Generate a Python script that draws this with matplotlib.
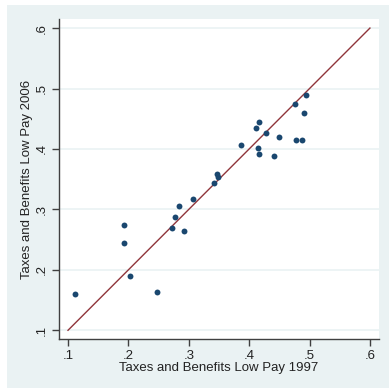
import matplotlib
matplotlib.use("Agg")
import matplotlib.pyplot as plt
from matplotlib.patches import Rectangle

plt.rcParams['font.family'] = ['Liberation Sans', 'DejaVu Sans']

# Data
low_pay_1997 = [0.111, 0.193, 0.193, 0.202, 0.248, 0.272, 0.278, 0.283, 0.292,
                0.307, 0.342, 0.347, 0.349, 0.387, 0.411, 0.416, 0.415, 0.417,
                0.428, 0.441, 0.450, 0.476, 0.477, 0.488, 0.491, 0.494]
low_pay_2006 = [0.160, 0.275, 0.244, 0.190, 0.163, 0.269, 0.287, 0.305, 0.264,
                0.317, 0.343, 0.359, 0.354, 0.406, 0.435, 0.445, 0.402, 0.392,
                0.426, 0.389, 0.420, 0.474, 0.415, 0.415, 0.460, 0.490]
ref_line = [0.1, 0.6]
ticks = [0.1, 0.2, 0.3, 0.4, 0.5, 0.6]
tick_labels = ['.1', '.2', '.3', '.4', '.5', '.6']

W, H = 389, 388
fig = plt.figure(figsize=(W / 100, H / 100), dpi=100)
fig.patch.set_facecolor('white')
bg = Rectangle((7 / W, 0), 1 - 7 / W, 1 - 5 / H, transform=fig.transFigure,
               facecolor='#EAF2F3', edgecolor='none', zorder=-10)
fig.patches.append(bg)

ax = fig.add_axes([59 / W, 1 - 339 / H, (379 - 59) / W, (339 - 19) / H])
ax.set_facecolor('white')
ax.set_xlim(0.0851, 0.615)
ax.set_ylim(0.0856, 0.615)

for t in ticks:
    ax.axhline(t, color='#EAF2F3', lw=1.2, zorder=0)

ax.plot(ref_line, ref_line, color='#90353B', lw=1.0, zorder=2)
ax.scatter(low_pay_1997, low_pay_2006, s=18, color='#1A476F', zorder=3,
           linewidths=0)

for s in ['top', 'right']:
    ax.spines[s].set_visible(False)
for s in ['left', 'bottom']:
    ax.spines[s].set_color('#404040')
    ax.spines[s].set_linewidth(1.0)

ax.set_xticks(ticks)
ax.set_xticklabels(tick_labels)
ax.set_yticks(ticks)
ax.set_yticklabels(tick_labels, rotation=90, va='center')
ax.tick_params(axis='both', direction='out', length=5, width=1.0,
               color='#404040', labelsize=9.5, labelcolor='#222222', pad=3)

ax.set_xlabel('Taxes and Benefits Low Pay 1997', fontsize=9.5, color='#222222',
              labelpad=0)
ax.set_ylabel('Taxes and Benefits Low Pay 2006', fontsize=9.5, color='#222222',
              labelpad=2)

fig.savefig('out.png', dpi=100, facecolor=fig.get_facecolor())
